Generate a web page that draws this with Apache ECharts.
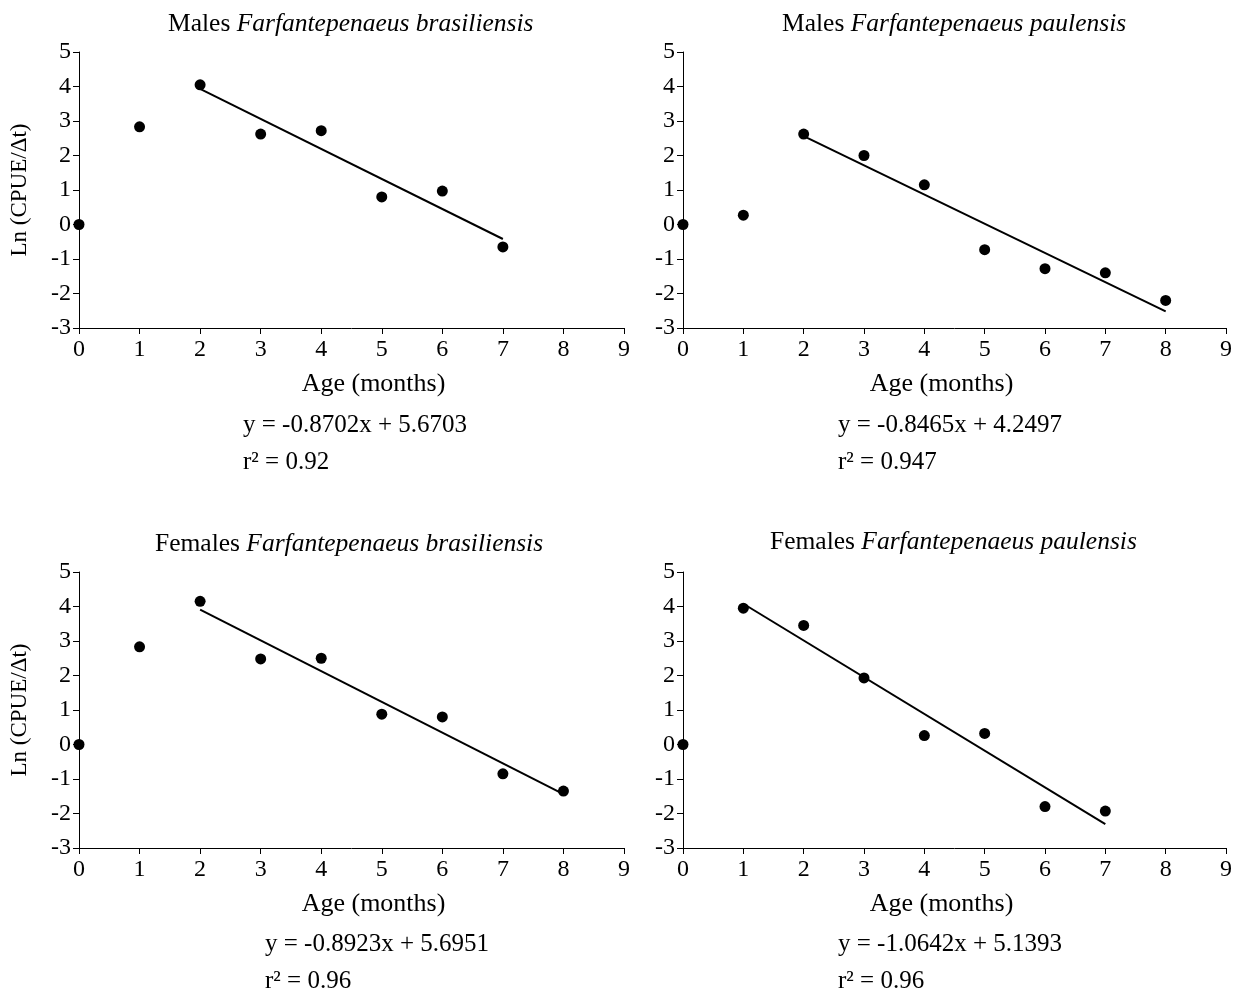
<!DOCTYPE html>
<html><head><meta charset="utf-8">
<script src="https://cdn.jsdelivr.net/npm/echarts@6/dist/echarts.min.js"></script>
<style>html,body{margin:0;padding:0;background:#fff}#c{width:1251px;height:991px}</style>
</head><body><div id="c"></div>
<script>
// Data
const ages1 = [0,1,2,3,4,5,6,7];
const malesBras = [0, 2.83, 4.05, 2.62, 2.72, 0.80, 0.97, -0.65];
const ages2 = [0,1,2,3,4,5,6,7,8];
const malesPaul = [0, 0.27, 2.62, 2.00, 1.15, -0.73, -1.28, -1.40, -2.20];
const ages3 = [0,1,2,3,4,5,6,7,8];
const femBras = [0, 2.83, 4.15, 2.48, 2.50, 0.88, 0.80, -0.85, -1.35];
const ages4 = [0,1,2,3,4,5,6,7];
const femPaul = [0, 3.95, 3.45, 1.93, 0.26, 0.32, -1.80, -1.93];

const trend1X = [2, 7], trend1Y = [3.93, -0.42];
const trend2X = [2, 8], trend2Y = [2.56, -2.52];
const trend3X = [2, 8], trend3Y = [3.91, -1.44];
const trend4X = [1, 7], trend4Y = [4.08, -2.31];

const titlesSex = ['Males ', 'Males ', 'Females ', 'Females '];
const titlesSp = ['Farfantepenaeus brasiliensis', 'Farfantepenaeus paulensis', 'Farfantepenaeus brasiliensis', 'Farfantepenaeus paulensis'];
const equations = ['y = -0.8702x + 5.6703', 'y = -0.8465x + 4.2497', 'y = -0.8923x + 5.6951', 'y = -1.0642x + 5.1393'];
const r2 = ['0.92', '0.947', '0.96', '0.96'];
const xTicks = [0,1,2,3,4,5,6,7,8,9];
const yTicks = [-3,-2,-1,0,1,2,3,4,5];
const xName = 'Age (months)';
const yName = 'Ln (CPUE/Δt)';

const FONT = '"Liberation Serif", "Times New Roman", serif';
const panels = [
  {ages: ages1, vals: malesBras, tx: trend1X, ty: trend1Y},
  {ages: ages2, vals: malesPaul, tx: trend2X, ty: trend2Y},
  {ages: ages3, vals: femBras, tx: trend3X, ty: trend3Y},
  {ages: ages4, vals: femPaul, tx: trend4X, ty: trend4Y}
];
const grids = [
  {left: 79, top: 52, width: 545, height: 276},
  {left: 683, top: 52, width: 543, height: 276},
  {left: 79, top: 572, width: 545, height: 276},
  {left: 683, top: 572, width: 543, height: 276}
];
const titlePos = [{left: 163, top: 6}, {left: 777, top: 6}, {left: 150, top: 526}, {left: 765, top: 524}];
const eqPos = [{x: 243, y: 413}, {x: 838, y: 413}, {x: 265, y: 932}, {x: 838, y: 932}];
const xNamePad = [[0,0,0,44], [0,26,0,0], [0,0,0,44], [0,26,0,0]];

const option = {
  backgroundColor: '#fff',
  animation: false,
  title: titlePos.map((p, i) => ({
    left: p.left, top: p.top,
    text: '{n|' + titlesSex[i] + '}{i|' + titlesSp[i] + '}',
    textStyle: {fontWeight: 'normal', rich: {
      n: {fontFamily: FONT, fontSize: 25.5, fontWeight: 'normal', color: '#000'},
      i: {fontFamily: FONT, fontSize: 25.5, fontWeight: 'normal', fontStyle: 'italic', color: '#000'}
    }}
  })),
  grid: grids,
  xAxis: grids.map((g, i) => ({
    type: 'value', gridIndex: i, min: 0, max: 9, interval: 1,
    name: xName, nameLocation: 'middle', nameGap: 43,
    nameTextStyle: {fontFamily: FONT, fontSize: 26, color: '#000', padding: xNamePad[i]},
    axisLine: {show: true, onZero: false, lineStyle: {color: '#000', width: 1}},
    axisTick: {show: true, inside: false, length: 6, lineStyle: {color: '#000'}},
    axisLabel: {fontFamily: FONT, fontSize: 24, color: '#000', margin: 10},
    splitLine: {show: false}
  })),
  yAxis: grids.map((g, i) => ({
    type: 'value', gridIndex: i, min: -3, max: 5, interval: 1,
    name: (i % 2 === 0) ? yName : '', nameLocation: 'middle', nameGap: 48,
    nameTextStyle: {fontFamily: FONT, fontSize: 23, color: '#000'},
    axisLine: {show: true, onZero: false, lineStyle: {color: '#000', width: 1}},
    axisTick: {show: true, inside: false, length: 6, lineStyle: {color: '#000'}},
    axisLabel: {fontFamily: FONT, fontSize: 24, color: '#000', margin: 8},
    splitLine: {show: false}
  })),
  series: [],
  graphic: []
};
panels.forEach((p, i) => {
  option.series.push({
    type: 'scatter', xAxisIndex: i, yAxisIndex: i, symbol: 'circle', symbolSize: 11,
    itemStyle: {color: '#000', opacity: 1},
    data: p.ages.map((a, k) => [a, p.vals[k]]), z: 3
  });
  option.series.push({
    type: 'line', xAxisIndex: i, yAxisIndex: i, showSymbol: false, symbol: 'none',
    lineStyle: {color: '#000', width: 2},
    data: p.tx.map((a, k) => [a, p.ty[k]]), z: 2
  });
  option.graphic.push({
    type: 'text', left: eqPos[i].x, top: eqPos[i].y,
    style: {text: equations[i], font: '25px ' + FONT, fill: '#000'}
  });
  option.graphic.push({
    type: 'text', left: eqPos[i].x, top: eqPos[i].y + 37,
    style: {text: 'r² = ' + r2[i], font: '25px ' + FONT, fill: '#000'}
  });
});
const chart = echarts.init(document.getElementById('c'));
chart.setOption(option);
</script></body></html>
